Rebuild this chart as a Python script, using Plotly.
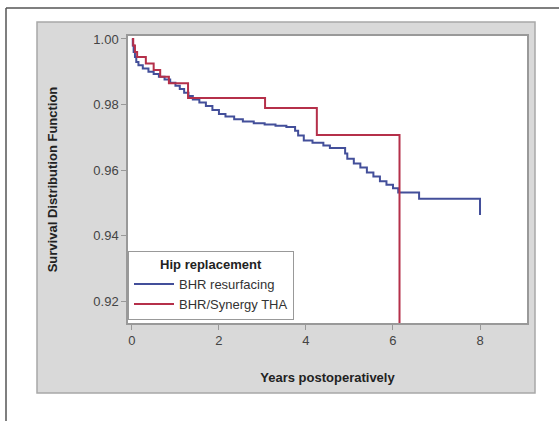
import plotly.graph_objects as go

# BHR resurfacing (Kaplan-Meier steps)
bhr_years = [0.00, 0.02, 0.04, 0.07, 0.10, 0.15, 0.25, 0.38, 0.50, 0.62, 0.75, 0.88,
             1.00, 1.10, 1.20, 1.30, 1.40, 1.55, 1.70, 1.85, 2.00, 2.15, 2.35, 2.55,
             2.80, 3.05, 3.30, 3.55, 3.75, 3.82, 3.95, 4.15, 4.40, 4.55, 4.90, 4.95,
             5.10, 5.25, 5.40, 5.55, 5.70, 5.85, 6.00, 6.12, 6.60, 8.00]
bhr_surv = [1.000, 0.998, 0.996, 0.9945, 0.993, 0.992, 0.991, 0.990, 0.9893, 0.9885, 0.9876, 0.9866,
            0.9857, 0.9847, 0.9836, 0.9826, 0.9815, 0.9806, 0.9795, 0.9783, 0.9771, 0.9763, 0.9755, 0.9748,
            0.9743, 0.9739, 0.9735, 0.9731, 0.9720, 0.9705, 0.9690, 0.9683, 0.9675, 0.9667, 0.9650, 0.9634,
            0.9620, 0.9608, 0.9592, 0.9580, 0.9566, 0.9555, 0.9544, 0.9531, 0.9512, 0.9463]

# BHR/Synergy THA
tha_years = [0.00, 0.03, 0.07, 0.12, 0.32, 0.50, 0.65, 0.85, 1.29, 3.06, 4.25, 6.15]
tha_surv = [1.000, 0.998, 0.996, 0.9945, 0.9925, 0.9905, 0.9885, 0.9865, 0.9820, 0.9789, 0.9707, 0.900]

x_ticks = [0, 2, 4, 6, 8]
y_ticks = [0.92, 0.94, 0.96, 0.98, 1.00]

BLUE = "#434f9a"
RED = "#b5304a"

fig = go.Figure()
fig.add_trace(go.Scatter(x=bhr_years, y=bhr_surv, mode="lines", line_shape="hv",
                         line=dict(color=BLUE, width=2), name="BHR resurfacing"))
fig.add_trace(go.Scatter(x=tha_years, y=tha_surv, mode="lines", line_shape="hv",
                         line=dict(color=RED, width=2), name="BHR/Synergy THA"))

W, H = 559, 421
L, R, T, B = 128, 527, 36, 323
pw, ph = R - L, B - T


def px(x):
    return (x - L) / pw


def py(y):
    return (B - y) / ph


shapes = [
    # gray panel
    dict(type="rect", xref="paper", yref="paper", x0=px(37), x1=px(535), y0=py(393), y1=py(22),
         fillcolor="#d9d9d9", line=dict(color="#a8a8a8", width=1.5), layer="below"),
    # white plot area
    dict(type="rect", xref="paper", yref="paper", x0=0, x1=1, y0=0, y1=1,
         fillcolor="white", line=dict(width=0), layer="below"),
    # outer frame lines
    dict(type="line", xref="paper", yref="paper", x0=px(6), x1=px(559), y0=py(8), y1=py(8),
         line=dict(color="#555555", width=1.5)),
    dict(type="line", xref="paper", yref="paper", x0=px(6), x1=px(6), y0=py(8), y1=py(421),
         line=dict(color="#555555", width=1.5)),
]

fig.update_layout(
    width=W, height=H,
    margin=dict(l=L, r=W - R, t=T, b=H - B),
    paper_bgcolor="white", plot_bgcolor="white",
    font=dict(family="Liberation Sans, Arial, sans-serif", color="#333333"),
    shapes=shapes,
    showlegend=True,
    legend=dict(x=0, y=0.01, xanchor="left", yanchor="bottom",
                bgcolor="white", bordercolor="#999999", borderwidth=1,
                font=dict(size=13, color="#333333"),
                title=dict(text="<b>Hip replacement</b>", side="top center",
                           font=dict(size=13, color="#222222")),
                tracegroupgap=0, itemwidth=40),
    xaxis=dict(range=[-0.09, 9.08], tickvals=x_ticks, ticks="outside", ticklen=5,
               tickcolor="#999999", showgrid=False, zeroline=False,
               showline=True, linecolor="#999999", linewidth=1.5, mirror=True,
               tickfont=dict(size=13, color="#444444"),
               title=dict(text="<b>Years postoperatively</b>", font=dict(size=13, color="#222222"),
                          standoff=26)),
    yaxis=dict(range=[0.9133, 1.0009], tickvals=y_ticks, tickformat=".2f", ticks="outside",
               ticklen=5, tickcolor="#999999", showgrid=False, zeroline=False,
               showline=True, linecolor="#999999", linewidth=1.5, mirror=True,
               tickfont=dict(size=13, color="#444444"),
               title=dict(text="<b>Survival Distribution Function</b>",
                          font=dict(size=13, color="#222222"), standoff=33)),
)

fig.write_html("out.html", config={"displayModeBar": False},
               post_script="document.body.style.margin='0';")
